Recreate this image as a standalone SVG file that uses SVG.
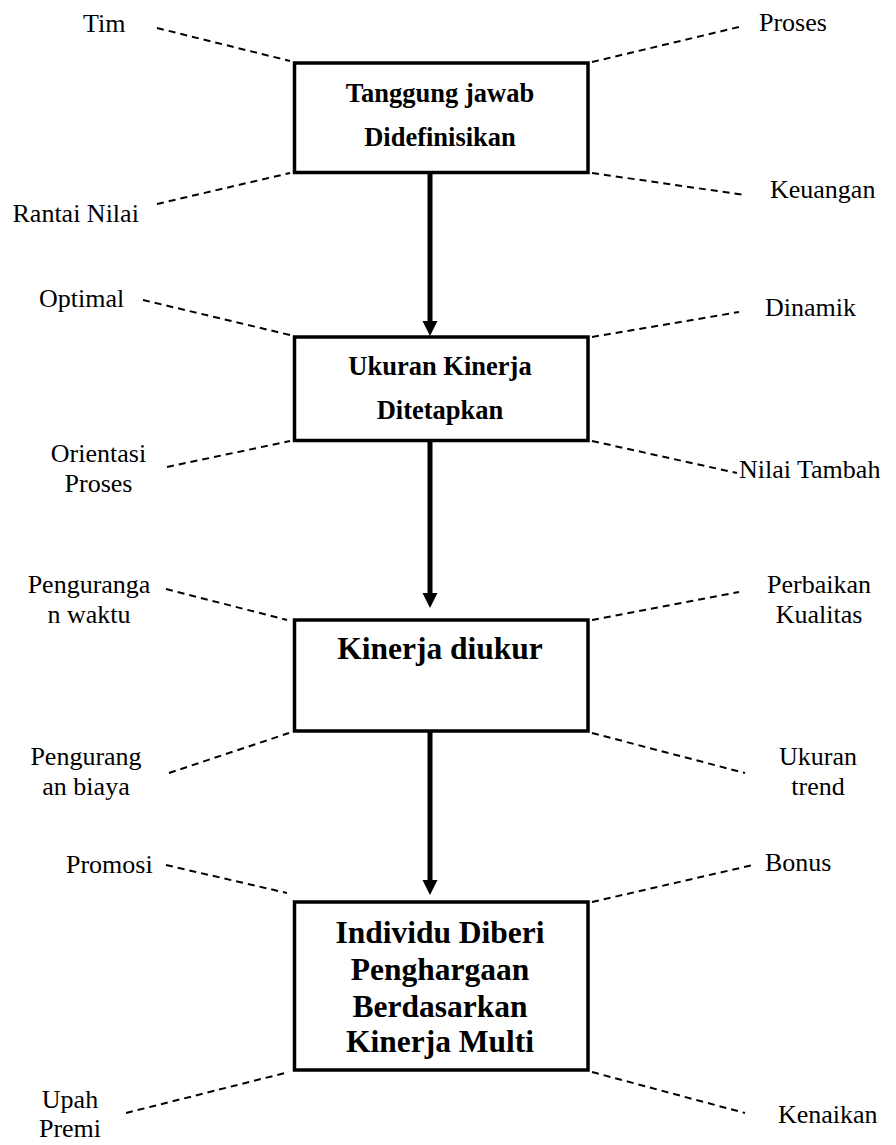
<svg xmlns="http://www.w3.org/2000/svg" width="896" height="1145" viewBox="0 0 896 1145">
<style>
.box{fill:#fff;stroke:#000;stroke-width:3.5}
.lbl{font-family:"Liberation Serif","Times New Roman",serif;font-size:26px;fill:#000}
.bt{font-family:"Liberation Serif","Times New Roman",serif;font-weight:bold;font-size:26.5px;fill:#000;text-anchor:middle}
.bt2{font-family:"Liberation Serif","Times New Roman",serif;font-weight:bold;font-size:31.5px;fill:#000;text-anchor:middle}
.dash{stroke:#000;stroke-width:2;stroke-dasharray:7 5;fill:none}
.arr{stroke:#000;stroke-width:5;fill:none;marker-end:url(#ah)}
.mid{text-anchor:middle}
</style>
<defs>
<marker id="ah" markerUnits="userSpaceOnUse" markerWidth="16" markerHeight="16" refX="1" refY="7.5" orient="auto">
<path d="M0,0 L15,7.5 L0,15 z" fill="#000"/>
</marker>
</defs>
<rect width="896" height="1145" fill="#fff"/>
<g id="connectors">
<line class="arr" x1="430" y1="172" x2="430" y2="322"/>
<line class="arr" x1="430" y1="440" x2="430" y2="594"/>
<line class="arr" x1="430" y1="731" x2="430" y2="881"/>
<line class="dash" x1="157" y1="28" x2="290" y2="61"/>
<line class="dash" x1="592" y1="62" x2="739" y2="27"/>
<line class="dash" x1="157" y1="204" x2="290" y2="173"/>
<line class="dash" x1="592" y1="173" x2="745" y2="195"/>
<line class="dash" x1="143" y1="300" x2="290" y2="335"/>
<line class="dash" x1="592" y1="337" x2="739" y2="312"/>
<line class="dash" x1="167" y1="467" x2="290" y2="441"/>
<line class="dash" x1="592" y1="441" x2="737" y2="473"/>
<line class="dash" x1="166" y1="589" x2="287" y2="620"/>
<line class="dash" x1="592" y1="620" x2="739" y2="592"/>
<line class="dash" x1="169" y1="773" x2="289" y2="733"/>
<line class="dash" x1="592" y1="733" x2="745" y2="773"/>
<line class="dash" x1="166" y1="865" x2="287" y2="893"/>
<line class="dash" x1="592" y1="902" x2="753" y2="865"/>
<line class="dash" x1="126" y1="1113" x2="289" y2="1072"/>
<line class="dash" x1="592" y1="1072" x2="745" y2="1113"/>
</g>
<g id="node1">
<rect class="box" x="294.5" y="63" width="293.5" height="109.5"/>
<text class="bt" x="440" y="101.5">Tanggung jawab</text>
<text class="bt" x="440" y="146">Didefinisikan</text>
</g>
<g id="node2">
<rect class="box" x="294.5" y="337" width="293.5" height="103.5"/>
<text class="bt" x="440" y="375">Ukuran Kinerja</text>
<text class="bt" x="440" y="419">Ditetapkan</text>
</g>
<g id="node3">
<rect class="box" x="294.5" y="620" width="293.5" height="111"/>
<text class="bt2" x="440" y="659">Kinerja diukur</text>
</g>
<g id="node4">
<rect class="box" x="294.5" y="902" width="293.5" height="168"/>
<text class="bt2" x="440" y="943">Individu Diberi</text>
<text class="bt2" x="440" y="980">Penghargaan</text>
<text class="bt2" x="440" y="1016.5">Berdasarkan</text>
<text class="bt2" x="440" y="1052">Kinerja Multi</text>
</g>
<g id="labels">
<text class="lbl" x="83" y="31.5">Tim</text>
<text class="lbl" x="759" y="31">Proses</text>
<text class="lbl" x="12.5" y="221.5">Rantai Nilai</text>
<text class="lbl" x="770" y="198">Keuangan</text>
<text class="lbl" x="39" y="307">Optimal</text>
<text class="lbl" x="765" y="316">Dinamik</text>
<text class="lbl mid" x="98.5" y="462">Orientasi</text>
<text class="lbl mid" x="98.5" y="492">Proses</text>
<text class="lbl" x="739" y="478">Nilai Tambah</text>
<text class="lbl mid" x="89" y="593">Penguranga</text>
<text class="lbl mid" x="89" y="623">n waktu</text>
<text class="lbl mid" x="819" y="593">Perbaikan</text>
<text class="lbl mid" x="819" y="623">Kualitas</text>
<text class="lbl mid" x="86" y="765">Pengurang</text>
<text class="lbl mid" x="86" y="795">an biaya</text>
<text class="lbl mid" x="818" y="765">Ukuran</text>
<text class="lbl mid" x="818" y="795">trend</text>
<text class="lbl" x="66" y="873">Promosi</text>
<text class="lbl" x="765" y="871">Bonus</text>
<text class="lbl mid" x="70" y="1108">Upah</text>
<text class="lbl mid" x="70" y="1137">Premi</text>
<text class="lbl" x="778" y="1123">Kenaikan</text>
</g>
</svg>
